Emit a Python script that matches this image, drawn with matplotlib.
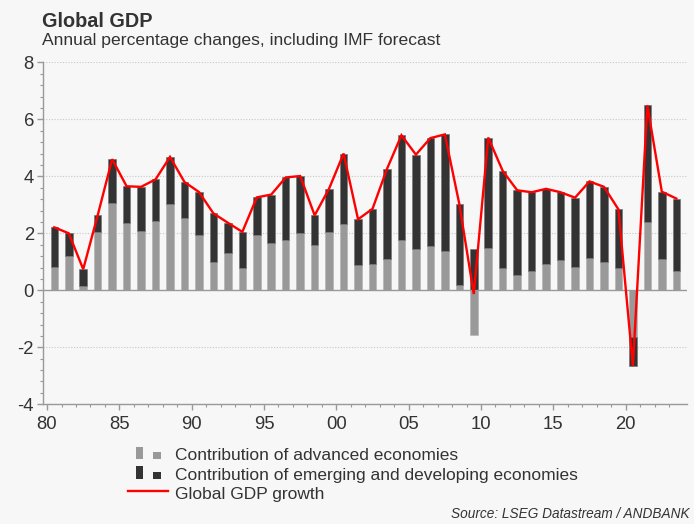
import numpy as np
import matplotlib
matplotlib.use("Agg")
import matplotlib.pyplot as plt
from matplotlib.patches import Rectangle
from matplotlib.lines import Line2D
from matplotlib.ticker import MultipleLocator, FixedLocator

plt.rcParams['font.family'] = ['Liberation Sans', 'DejaVu Sans']
plt.rcParams['axes.unicode_minus'] = False

years = list(range(1980, 2024))
advanced = [0.83, 1.21, 0.16, 2.03, 3.08, 2.37, 2.09, 2.42, 3.02, 2.52,
            1.93, 0.99, 1.32, 0.77, 1.93, 1.67, 1.75, 2.00, 1.60, 2.06,
            2.34, 0.88, 0.92, 1.11, 1.75, 1.46, 1.55, 1.37, 0.19, -1.57,
            1.47, 0.79, 0.53, 0.66, 0.92, 1.06, 0.81, 1.15, 0.99, 0.79,
            -1.65, 2.41, 1.09, 0.68]
emerging = [1.38, 0.79, 0.58, 0.60, 1.52, 1.28, 1.54, 1.47, 1.66, 1.28,
            1.52, 1.71, 1.05, 1.28, 1.33, 1.69, 2.21, 2.01, 1.03, 1.51,
            2.46, 1.61, 1.94, 3.15, 3.69, 3.30, 3.79, 4.10, 2.84, 1.44,
            3.89, 3.40, 2.98, 2.78, 2.64, 2.38, 2.44, 2.67, 2.64, 2.05,
            -1.01, 4.08, 2.37, 2.54]
growth = [2.21, 2.00, 0.74, 2.63, 4.60, 3.65, 3.63, 3.89, 4.68, 3.80,
          3.45, 2.70, 2.37, 2.05, 3.26, 3.36, 3.96, 4.01, 2.63, 3.57,
          4.80, 2.49, 2.86, 4.26, 5.44, 4.76, 5.34, 5.47, 3.03, -0.13,
          5.36, 4.19, 3.51, 3.44, 3.56, 3.44, 3.25, 3.82, 3.63, 2.84,
          -2.66, 6.49, 3.46, 3.22]
xtick_years = [1980, 1985, 1990, 1995, 2000, 2005, 2010, 2015, 2020]
xtick_labels = ['80', '85', '90', '95', '00', '05', '10', '15', '20']

BG = '#f7f7f7'
GRAY = '#999999'
DARK = '#333333'
AXC = '#999999'
TXT = '#333333'
W, H = 694, 524

fig = plt.figure(figsize=(W / 100, H / 100), dpi=100, facecolor=BG)
ax = fig.add_axes([43 / W, 1 - 404.3 / H, (686.7 - 43) / W, (404.3 - 62.3) / H])
ax.set_facecolor(BG)

yrs = np.array(years)
adv = np.array(advanced)
emg = np.array(emerging)
# stacking: emerging on top of advanced when same sign, else from zero
bottom_e = np.where(np.sign(adv) == np.sign(emg), adv, 0.0)

ax.bar(yrs, adv, width=0.52, color=GRAY, edgecolor='#b5b5b5', linewidth=0.5, zorder=3)
ax.bar(yrs, emg, bottom=bottom_e, width=0.52, color=DARK, edgecolor='#777777',
       linewidth=0.5, zorder=3)
ax.plot(yrs, growth, color='#ff0000', linewidth=1.7, zorder=5, solid_joinstyle='miter')

ax.set_ylim(-4, 8)
ax.set_xlim(1979.22, 2023.72)
ax.yaxis.set_major_locator(MultipleLocator(2))
ax.yaxis.set_minor_locator(FixedLocator(np.arange(-4, 8.01, 0.4)))
ax.xaxis.set_major_locator(FixedLocator(np.array(xtick_years) - 0.5))
ax.xaxis.set_minor_locator(FixedLocator(yrs - 0.5))
ax.set_xticklabels(xtick_labels)

for v in [-4, -2, 2, 4, 6, 8]:
    ax.axhline(v, color='#c8c8c8', linewidth=0.8, linestyle=(0, (1, 1.5)), zorder=1)
ax.axhline(0, color=AXC, linewidth=1.0, zorder=4)

for s in ['top', 'right']:
    ax.spines[s].set_visible(False)
for s in ['left', 'bottom']:
    ax.spines[s].set_color(AXC)
    ax.spines[s].set_linewidth(1.0)

ax.tick_params(axis='both', which='major', length=4, width=1, color=AXC,
               labelsize=13.3, labelcolor=TXT)
ax.tick_params(axis='both', which='minor', length=2.5, width=0.8, color=AXC)
ax.tick_params(axis='y', which='major', pad=2.5)
ax.tick_params(axis='x', which='major', pad=4.5)

def fx(x):
    return x / W

def fy(y):
    return 1 - y / H

fig.text(fx(42), fy(26.7), 'Global GDP', fontsize=14.3, fontweight='bold',
         color=TXT, va='baseline', ha='left')
fig.text(fx(42), fy(44.5), 'Annual percentage changes, including IMF forecast',
         fontsize=12.6, color=TXT, va='baseline', ha='left')

# legend
def rect(x0, y0, x1, y1, c):
    fig.add_artist(Rectangle((fx(x0), fy(y1)), fx(x1) - fx(x0), fy(y0) - fy(y1),
                             transform=fig.transFigure, facecolor=c, edgecolor='none'))

rect(135.7, 446.7, 142.7, 459.3, GRAY)
rect(153.3, 452.0, 160.7, 459.3, GRAY)
rect(135.7, 466.0, 142.7, 479.0, DARK)
rect(153.3, 471.7, 160.7, 479.0, DARK)
fig.add_artist(Line2D([fx(128.3), fx(167.7)], [fy(491), fy(491)], color='#ff0000',
                      linewidth=1.7, transform=fig.transFigure))
lab = ['Contribution of advanced economies',
       'Contribution of emerging and developing economies',
       'Global GDP growth']
for t, yb in zip(lab, [460, 480, 499]):
    fig.text(fx(175), fy(yb), t, fontsize=12.5, color=TXT, va='baseline', ha='left')

fig.text(fx(690), fy(518.5), 'Source: LSEG Datastream / ANDBANK', fontsize=9.85,
         style='italic', color=TXT, ha='right', va='baseline')

fig.savefig('out.png', dpi=100, facecolor=BG)
